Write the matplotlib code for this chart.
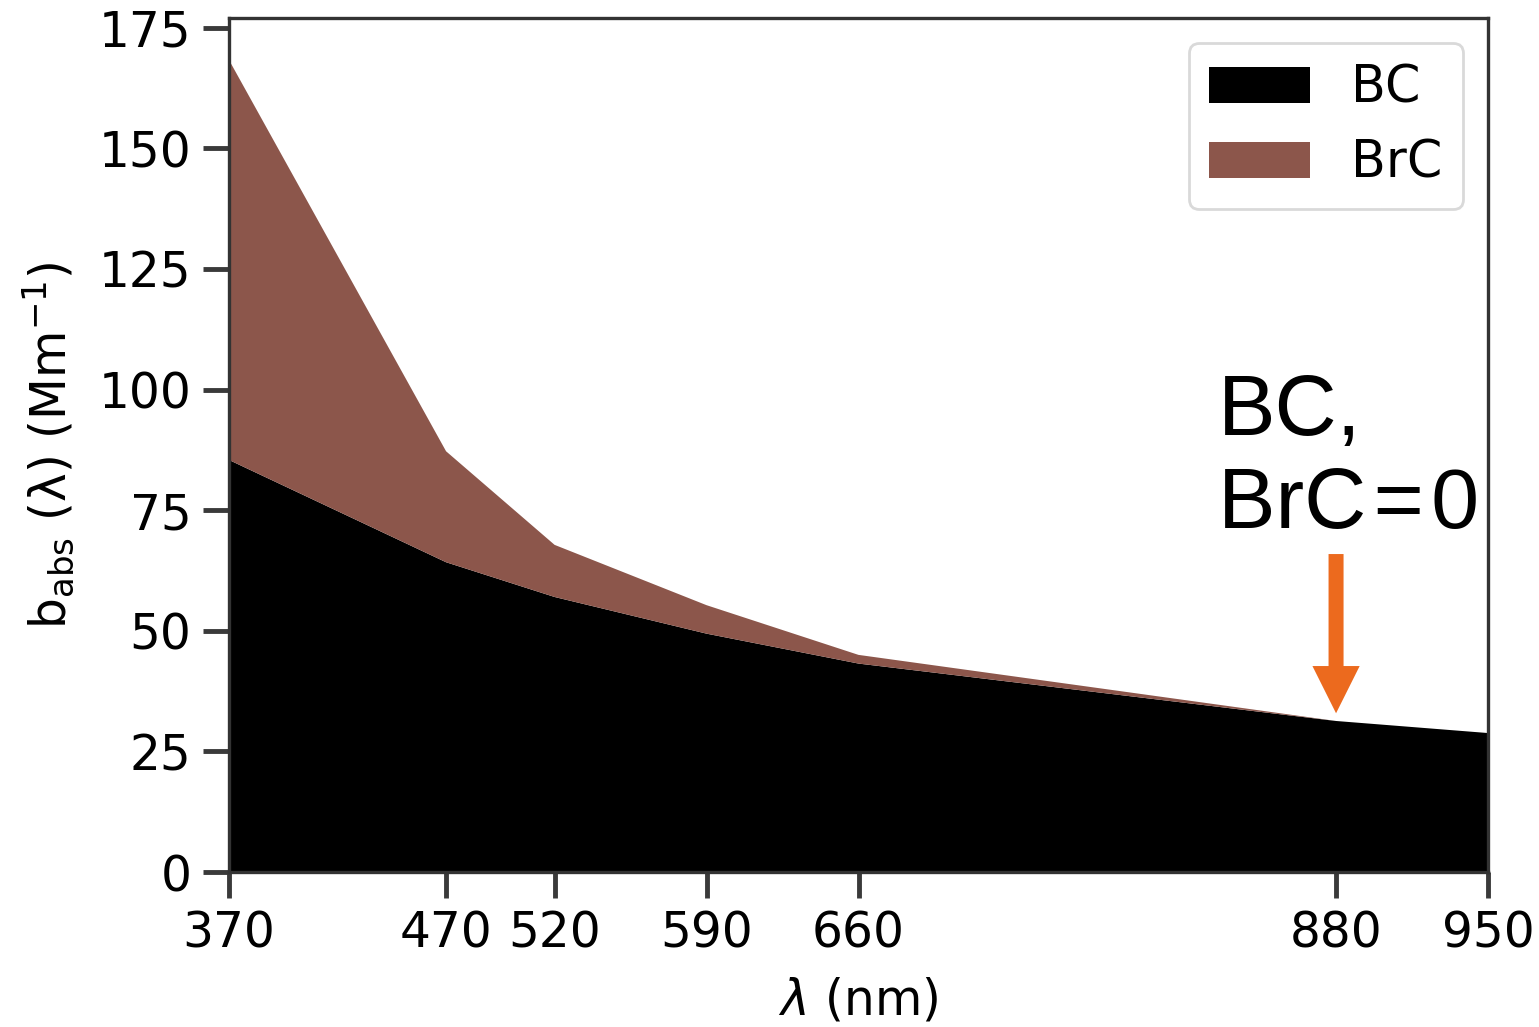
import matplotlib
matplotlib.use("Agg")
import matplotlib.pyplot as plt
import numpy as np

wavelengths = [370, 470, 520, 590, 660, 880, 950]
bc_values = [85.4, 64.2, 57.0, 49.4, 43.2, 31.3, 28.8]
brc_values = [82.9, 23.0, 10.8, 5.9, 1.8, 0.0, 0.0]
tick_labels = ["370", "470", "520", "590", "660", "880", "950"]
series_names = ["BC", "BrC"]
series_colors = ["#000000", "#8c564b"]

plt.rcParams['font.family'] = ['DejaVu Sans']
fig = plt.figure(figsize=(15.39, 10.27), dpi=100)
ax = fig.add_axes([229/1539, 1-872/1027, (1488-229)/1539, (872-18)/1027])

ax.stackplot(wavelengths, bc_values, brc_values, labels=series_names,
             colors=series_colors)
ax.set_xlim(370, 950)
ax.set_ylim(0, 177)
ax.set_xticks(wavelengths)
ax.set_xticklabels(tick_labels)
ax.set_yticks([0, 25, 50, 75, 100, 125, 150, 175])

ax.tick_params(axis='both', labelsize=35, length=19, width=3.5, color='#3a3a3a',
               direction='out', pad=8)
for s in ax.spines.values():
    s.set_linewidth(2.4)
    s.set_color('#333333')

ax.set_xlabel(r'$\lambda$ (nm)', fontsize=35, labelpad=14)
ax.set_ylabel(r'$\mathrm{b_{abs}}$ (λ) (Mm$^{-1}$)', fontsize=35, labelpad=16)

leg = ax.legend(loc='upper right', fontsize=36.5, frameon=True, fancybox=True)
leg.get_frame().set_edgecolor('#d0d0d0')
leg.get_frame().set_linewidth(2)

ax.annotate('', xy=(880, 32.9), xytext=(880, 65.9),
            arrowprops=dict(facecolor='#EC6A1E', edgecolor='none', width=10.8,
                            headwidth=34, headlength=34, shrink=0))
ax.text(825.6, 71.4, 'BC,\nBrC\u200a=\u200a0', fontsize=62,
        family=['Liberation Sans', 'DejaVu Sans'],
        ha='left', va='baseline', color='black')

fig.savefig('out.png', dpi=100)
